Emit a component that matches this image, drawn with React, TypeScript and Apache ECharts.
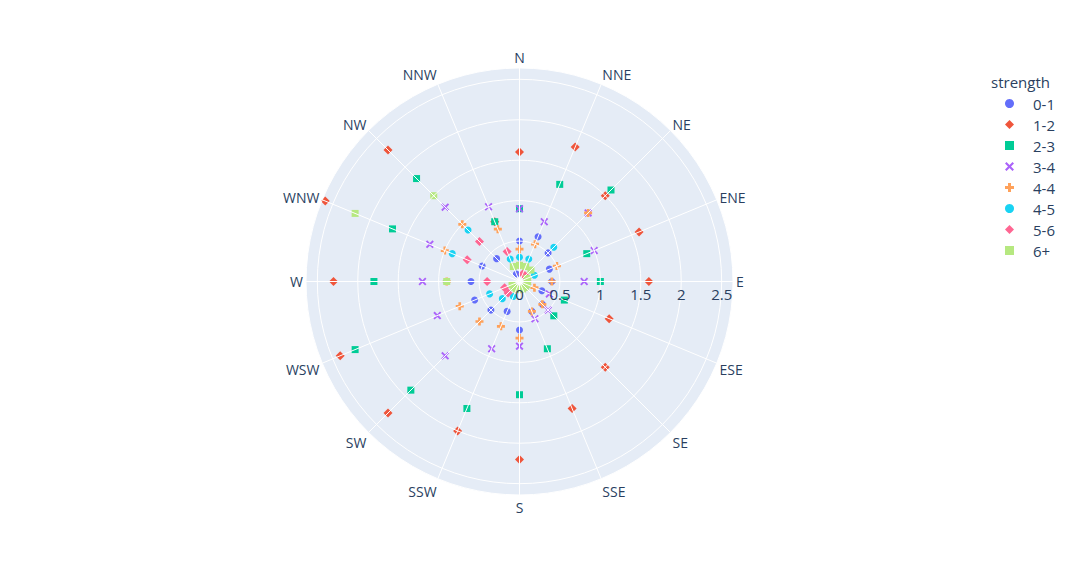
import React, { useEffect, useRef } from 'react';
import * as echarts from 'echarts';

// wind directions, clockwise from north
const directions = ['N', 'NNE', 'NE', 'ENE', 'E', 'ESE', 'SE', 'SSE', 'S', 'SSW', 'SW', 'WSW', 'W', 'WNW', 'NW', 'NNW'];
const strengths = ['0-1', '1-2', '2-3', '3-4', '4-4', '4-5', '5-6', '6+'];

// frequency per direction, one list per strength class
const freq0to1 = [0.5, 0.6, 0.5, 0.4, 0.4, 0.3, 0.4, 0.4, 0.6, 0.4, 0.5, 0.6, 0.6, 0.5, 0.4, 0.1];
const freq1to2 = [1.6, 1.8, 1.5, 1.6, 1.6, 1.2, 1.5, 1.7, 2.2, 2.0, 2.3, 2.4, 2.3, 2.6, 2.3, 0.8];
const freq2to3 = [0.9, 1.3, 1.6, 0.9, 1.0, 0.6, 0.6, 0.9, 1.4, 1.7, 1.9, 2.2, 1.8, 1.7, 1.8, 0.8];
const freq3to4 = [0.9, 0.8, 1.2, 1.0, 0.8, 0.4, 0.5, 0.5, 0.8, 0.9, 1.3, 1.1, 1.2, 1.2, 1.3, 1.0];
const freq4to4 = [0.4, 0.5, 1.2, 0.5, 0.4, 0.2, 0.4, 0.4, 0.7, 0.6, 0.7, 0.8, 0.9, 1.0, 1.0, 0.7];
const freq4to5 = [0.3, 0.3, 0.6, 0.2, 0.1, 0.1, 0.1, 0.1, 0.1, 0.2, 0.3, 0.4, 0.9, 0.9, 0.9, 0.3];
const freq5to6 = [0.2, 0.1, 0.1, 0.1, 0.1, 0.1, 0.1, 0.1, 0.1, 0.1, 0.2, 0.2, 0.4, 0.7, 0.7, 0.4];
const freq6plus = [0.2, 0.2, 0.2, 0.1, 0.1, 0.1, 0.1, 0.1, 0.1, 0.1, 0.1, 0.1, 0.9, 2.2, 1.5, 0.2];

const frequencies = [freq0to1, freq1to2, freq2to3, freq3to4, freq4to4, freq4to5, freq5to6, freq6plus];
const radialTicks = [0, 0.5, 1, 1.5, 2, 2.5];

const colors = ['#636efa', '#EF553B', '#00cc96', '#ab63fa', '#FFA15A', '#19d3f3', '#FF6692', '#B6E880'];
const plusPath = 'path://M8,0H16V8H24V16H16V24H8V16H0V8H8Z';
const xPath = 'path://M0,4L4,0L12,8L20,0L24,4L16,12L24,20L20,24L12,16L4,24L0,20L8,12Z';
const symbols = ['circle', 'diamond', 'rect', xPath, plusPath, 'circle', 'diamond', 'rect'];
const symbolSizes = [7, 9, 7, 8, 8, 7, 9, 7];

// line heights that shift each angular label so it sits centred like plotly's
const labelLineHeights = [16, 13, 8, 3, 14, 11, 16, 20, 19, 20, 16, 11, 14, 3, 8, 13];

const FONT = '"Open Sans", verdana, arial, sans-serif';
const TEXT = '#2a3f5f';
const step = 360 / directions.length;
const rMax = 2.64;

const App: React.FC = () => {
  const chartRef = useRef<HTMLDivElement>(null);

  useEffect(() => {
    if (!chartRef.current) return;
    const chart = echarts.init(chartRef.current, undefined, { renderer: 'svg' });

    const center = [519.5, 281.5];
    const radius = 213.5;

    const rich: Record<string, any> = {};
    directions.forEach((_, i) => {
      rich['d' + i] = { fontFamily: FONT, fontSize: 14, color: TEXT, lineHeight: labelLineHeights[i] };
    });

    const option: echarts.EChartsOption = {
      animation: false,
      backgroundColor: '#fff',
      title: {
        text: 'strength',
        left: 986,
        top: 69,
        textStyle: { fontFamily: FONT, fontSize: 15, fontWeight: 'normal', color: TEXT }
      },
      legend: {
        data: strengths,
        orient: 'vertical',
        left: 1000,
        top: 91,
        itemWidth: 9,
        itemHeight: 9,
        itemGap: 6,
        textStyle: { fontFamily: FONT, fontSize: 15, lineHeight: 15, color: TEXT, padding: [0, 0, 0, 14] }
      },
      polar: [
        { center, radius },
        { center, radius }
      ],
      angleAxis: [
        {
          polarIndex: 0,
          type: 'value',
          min: 0,
          max: 360,
          interval: step,
          startAngle: 90,
          clockwise: true,
          z: 3,
          axisLine: { show: false },
          axisTick: { show: false },
          axisLabel: {
            margin: 3,
            color: TEXT,
            fontFamily: FONT,
            fontSize: 14,
            rich,
            formatter: (v: number) => {
              if (v >= 360) return '';
              const i = Math.round(v / step);
              return '{d' + i + '|' + directions[i] + '}';
            }
          },
          splitLine: { show: true, lineStyle: { color: '#ffffff', width: 1 } }
        },
        {
          polarIndex: 1,
          type: 'value',
          min: 0,
          max: 360,
          startAngle: 0,
          z: 0,
          axisLine: { show: false },
          axisTick: { show: false },
          axisLabel: { show: false },
          splitLine: { show: false },
          splitArea: { show: true, areaStyle: { color: ['#E5ECF6'] } }
        }
      ],
      radiusAxis: [
        {
          polarIndex: 0,
          min: 0,
          max: rMax,
          interval: 0.5,
          z: 3,
          axisLine: { show: false },
          axisTick: { show: false },
          axisLabel: { show: false },
          splitLine: { show: true, lineStyle: { color: '#ffffff', width: 1 } }
        },
        {
          polarIndex: 1,
          min: 0,
          max: rMax,
          interval: 0.5,
          z: 4,
          axisLine: { show: false },
          axisTick: { show: false },
          splitLine: { show: false },
          axisLabel: {
            showMaxLabel: false,
            margin: -20,
            color: TEXT,
            fontFamily: FONT,
            fontSize: 15,
            lineHeight: 15,
            formatter: (v: number) => (radialTicks.includes(v) ? String(v) : '')
          }
        }
      ],
      series: strengths.map((name, k) => ({
        name,
        type: 'scatter',
        coordinateSystem: 'polar',
        polarIndex: 0,
        symbol: symbols[k],
        symbolSize: symbolSizes[k],
        itemStyle: { color: colors[k], opacity: 1 },
        data: directions.map((_, i) => [frequencies[k][i], i * step])
      }))
    };

    chart.setOption(option);

    return () => {
      chart.dispose();
    };
  }, []);

  return <div ref={chartRef} style={{ position: 'absolute', left: 0, top: 0, width: '1080px', height: '575px' }} />;
};

export default App;
